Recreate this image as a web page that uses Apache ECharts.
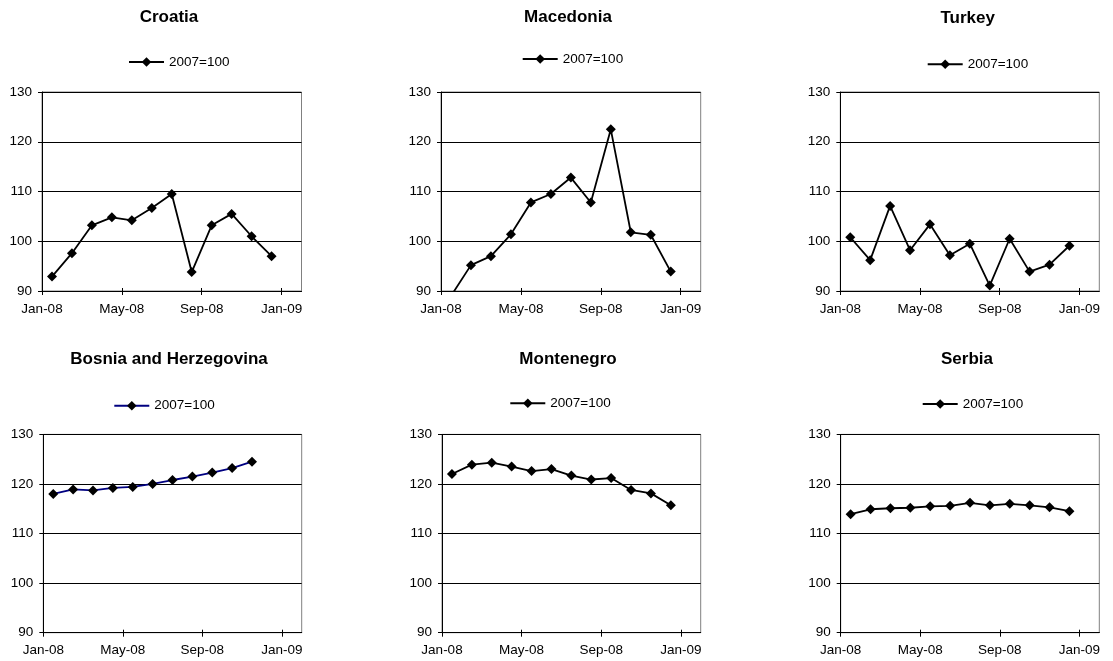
<!DOCTYPE html>
<html>
<head>
<meta charset="utf-8">
<script src="https://cdn.jsdelivr.net/npm/echarts@6/dist/echarts.min.js"></script>
<style>
  html, body { margin: 0; padding: 0; background: #fff; }
  #chart { width: 1113px; height: 661px; }
</style>
</head>
<body>
<div id="chart"></div>
<script>
// Monthly index values, 2007 = 100
const months = ['Jan-08', 'Feb-08', 'Mar-08', 'Apr-08', 'May-08', 'Jun-08',
                'Jul-08', 'Aug-08', 'Sep-08', 'Oct-08', 'Nov-08', 'Dec-08'];
const tickLabels = ['Jan-08', 'May-08', 'Sep-08', 'Jan-09'];
const legendLabel = '2007=100';

const croatia    = [92.9, 97.6, 103.2, 104.8, 104.2, 106.7, 109.5, 93.8, 103.2, 105.5, 101.0, 97.0];
const macedonia  = [89.0, 95.2, 97.0, 101.4, 107.8, 109.5, 112.8, 107.8, 122.5, 101.8, 101.3, 93.9];
const turkey     = [100.8, 96.2, 107.1, 98.2, 103.4, 97.2, 99.5, 91.1, 100.5, 93.9, 95.3, 99.1];
const bosnia     = [118.0, 118.9, 118.7, 119.2, 119.4, 120.0, 120.8, 121.5, 122.3, 123.2, 124.5];
const montenegro = [122.0, 123.9, 124.3, 123.5, 122.6, 123.0, 121.7, 120.9, 121.2, 118.8, 118.1, 115.7];
const serbia     = [113.9, 114.9, 115.1, 115.2, 115.5, 115.6, 116.2, 115.7, 116.0, 115.7, 115.3, 114.5];

// Axis settings
const yMin = 90, yMax = 130, yStep = 10;
const monthsPerTick = 4;
const axisSlots = 13;            // Jan-08 .. Jan-09, one slot per month

// Panel layout (pixels)
const panels = [
  { title: 'Croatia',                values: croatia,    line: '#000000', grid: [42,    92,    259.5, 199],   titleAt: [169,   17],   legendAt: [128,   62]    },
  { title: 'Macedonia',              values: macedonia,  line: '#000000', grid: [441,   92,    259.7, 199],   titleAt: [568,   17],   legendAt: [521.7, 59]    },
  { title: 'Turkey',                 values: turkey,     line: '#000000', grid: [840.3, 92,    259,   199],   titleAt: [967.7, 18.3], legendAt: [926.7, 64.3]  },
  { title: 'Bosnia and Herzegovina', values: bosnia,     line: '#000080', grid: [43.3,  434.4, 258.4, 198.3], titleAt: [169,   359],  legendAt: [113.3, 405.7] },
  { title: 'Montenegro',             values: montenegro, line: '#000000', grid: [442,   434.4, 258.7, 198.3], titleAt: [568,   359],  legendAt: [509.3, 403.3] },
  { title: 'Serbia',                 values: serbia,     line: '#000000', grid: [840.7, 434.4, 258.6, 198.3], titleAt: [967,   359],  legendAt: [921.7, 404]   }
];

const FONT = "'Liberation Sans', Arial, Helvetica, sans-serif";
const tickValues = tickLabels.map((_, i) => i * monthsPerTick);

const option = {
  animation: false,
  backgroundColor: '#ffffff',
  title: [], legend: [], grid: [], xAxis: [], yAxis: [], series: []
};

panels.forEach((p, k) => {
  const seriesName = p.title + ' ' + legendLabel;

  option.title.push({
    text: p.title,
    left: p.titleAt[0], top: p.titleAt[1],
    textAlign: 'center', textVerticalAlign: 'middle',
    padding: 0,
    textStyle: { fontFamily: FONT, fontSize: 17, fontWeight: 'bold', color: '#000' }
  });

  option.legend.push({
    data: [seriesName],
    left: p.legendAt[0], top: p.legendAt[1] - 7,
    padding: 0,
    itemWidth: 35, itemHeight: 12,
    selectedMode: false,
    formatter: () => legendLabel,
    textStyle: { fontFamily: FONT, fontSize: 13.5, color: '#000' }
  });

  option.grid.push({
    left: p.grid[0], top: p.grid[1], width: p.grid[2], height: p.grid[3],
    show: true, borderColor: '#808080', borderWidth: 1, backgroundColor: 'transparent'
  });

  // Main date axis: labels and ticks hanging below the axis line
  option.xAxis.push({
    type: 'value', gridIndex: k, position: 'bottom',
    min: 0, max: axisSlots, interval: monthsPerTick,
    axisLine: { show: true, lineStyle: { color: '#000', width: 1 } },
    axisTick: { show: true, inside: false, length: 4, customValues: tickValues, lineStyle: { color: '#000' } },
    axisLabel: {
      customValues: tickValues, margin: 11, color: '#000', fontFamily: FONT, fontSize: 13.5,
      formatter: v => tickLabels[Math.round(v / monthsPerTick)] || ''
    },
    splitLine: { show: false }
  });
  // Companion axis: the upper half of the crossing tick marks
  option.xAxis.push({
    type: 'value', gridIndex: k, position: 'bottom',
    min: 0, max: axisSlots, interval: monthsPerTick,
    axisLine: { show: false },
    axisTick: { show: true, inside: true, length: 3, customValues: tickValues, lineStyle: { color: '#000' } },
    axisLabel: { show: false },
    splitLine: { show: false }
  });

  option.yAxis.push({
    type: 'value', gridIndex: k,
    min: yMin, max: yMax, interval: yStep,
    axisLine: { show: true, lineStyle: { color: '#000', width: 1 } },
    axisTick: { show: true, inside: false, length: 4, lineStyle: { color: '#000' } },
    axisLabel: { margin: 10, color: '#000', fontFamily: FONT, fontSize: 13.5 },
    splitLine: { show: true, lineStyle: { color: '#000', width: 1 } }
  });

  option.series.push({
    name: seriesName,
    type: 'line',
    xAxisIndex: 2 * k, yAxisIndex: k,
    clip: true,
    symbol: 'diamond', symbolSize: 10,
    lineStyle: { color: p.line, width: 1.8 },
    itemStyle: { color: '#000', borderWidth: 0 },
    emphasis: { disabled: true },
    data: p.values.map((v, i) => [i + 0.5, v, months[i]])
  });
});

const chart = echarts.init(document.getElementById('chart'), null, { renderer: 'canvas' });
chart.setOption(option);
</script>
</body>
</html>
